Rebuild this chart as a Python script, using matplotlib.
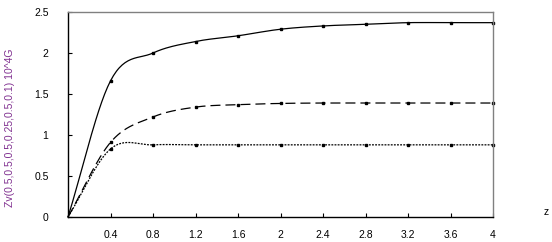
import matplotlib
matplotlib.use('Agg')
import matplotlib.pyplot as plt
import numpy as np

plt.rcParams['font.family'] = ['Liberation Sans', 'DejaVu Sans']

z = np.array([0, 0.4, 0.8, 1.2, 1.6, 2.0, 2.4, 2.8, 3.2, 3.6, 4.0])
zv_solid = np.array([0, 1.66, 2.00, 2.14, 2.21, 2.29, 2.33, 2.35, 2.37, 2.37, 2.37])
zv_dashed = np.array([0, 0.91, 1.22, 1.34, 1.37, 1.385, 1.39, 1.39, 1.39, 1.39, 1.39])
zv_dotted = np.array([0, 0.83, 0.88, 0.88, 0.88, 0.88, 0.88, 0.88, 0.88, 0.88, 0.88])
xticks = [0.4, 0.8, 1.2, 1.6, 2, 2.4, 2.8, 3.2, 3.6, 4]
yticks = [0, 0.5, 1, 1.5, 2, 2.5]


def smooth(x, y, n=30):
    # excel-like smoothed line (catmull-rom through the points)
    xs, ys = [], []
    px = np.concatenate([[2 * x[0] - x[1]], x, [2 * x[-1] - x[-2]]])
    py = np.concatenate([[2 * y[0] - y[1]], y, [2 * y[-1] - y[-2]]])
    for i in range(1, len(px) - 2):
        t = np.linspace(0, 1, n)
        for p, out in ((px, xs), (py, ys)):
            p0, p1, p2, p3 = p[i - 1], p[i], p[i + 1], p[i + 2]
            m1 = (p2 - p0) / 2
            m2 = (p3 - p1) / 2
            h00 = 2 * t**3 - 3 * t**2 + 1
            h10 = t**3 - 2 * t**2 + t
            h01 = -2 * t**3 + 3 * t**2
            h11 = t**3 - t**2
            out.extend(h00 * p1 + h10 * m1 + h01 * p2 + h11 * m2)
    return np.array(xs), np.array(ys)


fig = plt.figure(figsize=(5.52, 2.42), dpi=100)
ax = fig.add_axes([68 / 552, 1 - 217 / 242, 425 / 552, 205 / 242])

for y, ls in ((zv_solid, '-'), (zv_dashed, (0, (8, 4))), (zv_dotted, (0, (1.5, 1)))):
    sx, sy = smooth(z, y)
    ax.plot(sx, sy, color='black', lw=0.9, linestyle=ls, clip_on=False)
    ax.plot(z[1:], y[1:], 's', color='black', ms=1.7, clip_on=False)

ax.set_xlim(0, 4)
ax.set_ylim(0, 2.5)
ax.set_xticks(xticks)
ax.set_xticklabels([f'{v:g}' for v in xticks])
ax.set_yticks(yticks)
ax.set_yticklabels([f'{v:g}' for v in yticks])
ax.tick_params(axis='x', direction='in', length=3, pad=9, labelsize=7.5)
ax.tick_params(axis='y', direction='in', length=3, pad=14, labelsize=7.5)
for s in ('top', 'right'):
    ax.spines[s].set_color('#808080')
for s in ('left', 'bottom'):
    ax.spines[s].set_color('black')
for s in ax.spines.values():
    s.set_linewidth(1)

ax.annotate('z', xy=(1.125, 0.024), xycoords='axes fraction', fontsize=7.5,
            ha='center', va='center', annotation_clip=False)
fig.text(10 / 552, 1 - 128 / 242, 'Zv(0.5,0.5,0.5,0.25,0.5,0.1) 10^4G',
         rotation=90, ha='center', va='center', fontsize=7.5, color='#803090')

fig.savefig('out.png', dpi=100)
